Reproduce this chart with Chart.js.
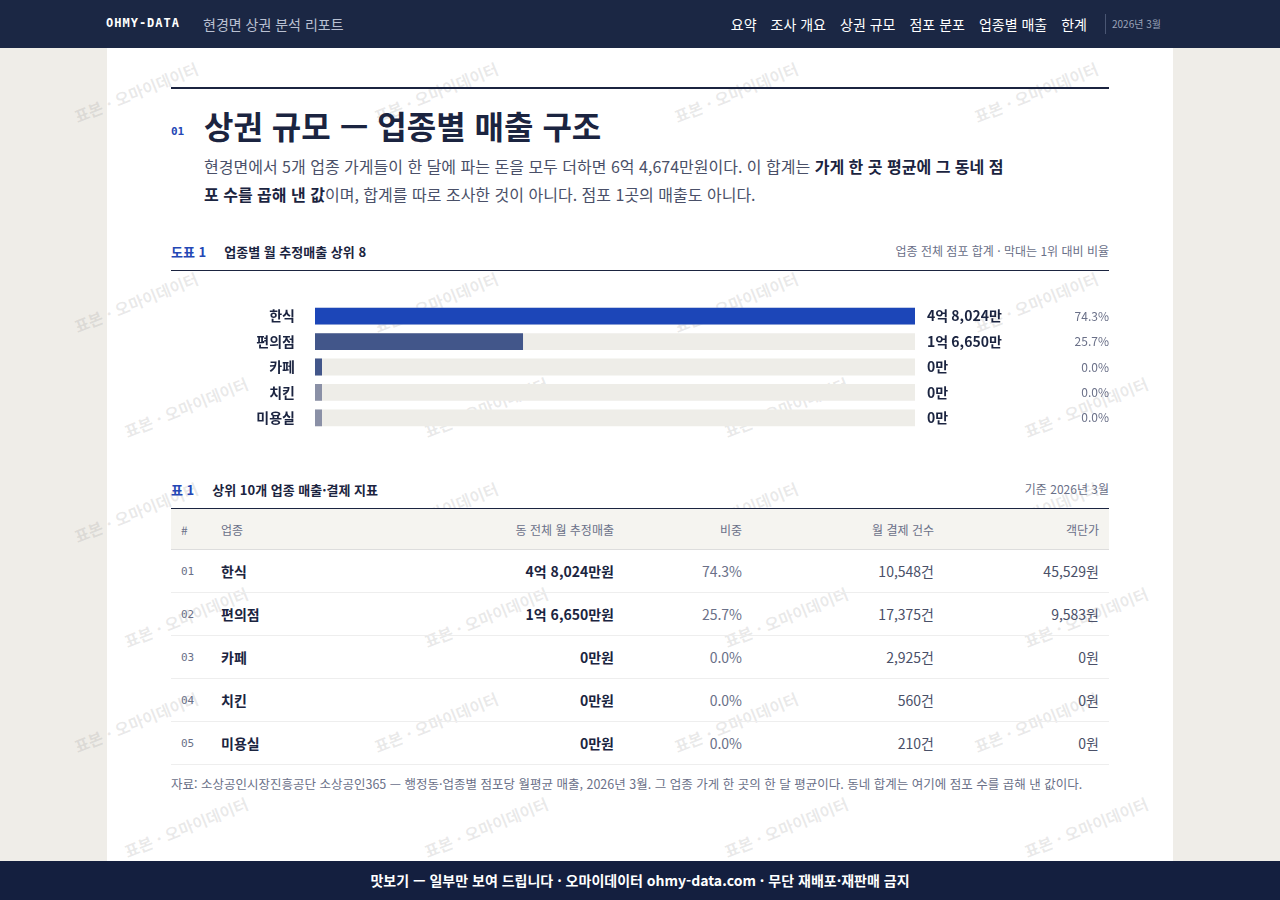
<!DOCTYPE html>
<html lang="ko"><head><meta charset="utf-8">
<script src="https://cdn.jsdelivr.net/npm/chart.js@4"></script>
<style>
*{box-sizing:border-box;margin:0;padding:0}
body{width:1280px;height:900px;overflow:hidden;background:#efede8;font-family:"Noto Sans CJK KR","Noto Sans",sans-serif;color:#1b2440}
.top{position:absolute;left:0;top:0;width:1280px;height:48px;background:#1b2744;color:#fff}
.top .brand{position:absolute;left:106px;top:16px;font:bold 12px "DejaVu Sans Mono",monospace;letter-spacing:1px}
.top .sub{position:absolute;left:203px;top:14px;font-size:14px;color:#b9c0d2}
.top .nav{position:absolute;right:193px;top:14px;font-size:14px}
.top .nav span{margin-left:14px}
.top .date{position:absolute;left:1105px;top:14px;border-left:1px solid #4a5673;padding-left:6px;font-size:10px;color:#9aa3b8;height:20px;line-height:20px}
.page{position:absolute;left:107px;top:48px;width:1066px;height:813px;background:#fff}
.foot{position:absolute;left:0;top:861px;width:1280px;height:39px;background:#141f3f;color:#fff;text-align:center;font-size:14px;font-weight:bold;line-height:39px}
.abs{position:absolute}
table{border-collapse:collapse;width:938px;font-size:14px}
th{background:#f5f4f0;color:#6a7088;font-weight:normal;font-size:12px;height:41px;border-top:1px solid #1b2440;border-bottom:1px solid #ddd}
td{height:43px;border-bottom:1px solid #eee;color:#1b2440}
td.n{font:11px "DejaVu Sans Mono",monospace;color:#6a7088;padding-left:10px}
td.r,th.r{text-align:right;padding-right:10px}
td.g{color:#6a7088}
.wm{position:absolute;font-size:16px;font-weight:bold;color:rgba(120,120,120,0.16);transform:rotate(-22deg);white-space:nowrap;pointer-events:none}
</style></head><body>
<div class="top"><div class="brand">OHMY-DATA</div><div class="sub">현경면 상권 분석 리포트</div>
<div class="nav"><span>요약</span><span>조사 개요</span><span>상권 규모</span><span>점포 분포</span><span>업종별 매출</span><span>한계</span></div>
<div class="date">2026년 3월</div></div>
<div class="page"></div>
<div id="wms"></div>
<div class="abs" style="left:171px;top:87px;width:938px;border-top:2px solid #1b2440"></div>
<div class="abs" style="left:171px;top:125px;font:bold 11px 'DejaVu Sans Mono';color:#2447b5">01</div>
<div class="abs" style="left:204px;top:102px;font-size:32px;font-weight:bold">상권 규모 — 업종별 매출 구조</div>
<div class="abs" style="left:204px;top:152px;width:800px;font-size:16px;line-height:28px;color:#4a5068">현경면에서 5개 업종 가게들이 한 달에 파는 돈을 모두 더하면 6억 4,674만원이다. 이 합계는 <b style="color:#1b2440">가게 한 곳 평균에 그 동네 점포 수를 곱해 낸 값</b>이며, 합계를 따로 조사한 것이 아니다. 점포 1곳의 매출도 아니다.</div>
<div class="abs" style="left:171px;top:242px;font-size:13px;font-weight:bold"><span style="color:#2447b5;margin-right:18px">도표 1</span>업종별 월 추정매출 상위 8</div>
<div class="abs" style="left:700px;top:242px;width:409px;text-align:right;font-size:12px;color:#6a7088">업종 전체 점포 합계 · 막대는 1위 대비 비율</div>
<div class="abs" style="left:171px;top:270px;width:938px;border-top:1px solid #1b2440"></div>
<div class="abs" style="left:171px;top:283px;width:938px;height:168px"><canvas id="graph" width="938" height="168"></canvas></div>
<div class="abs" style="left:171px;top:480px;font-size:13px;font-weight:bold"><span style="color:#2447b5;margin-right:18px">표 1</span>상위 10개 업종 매출·결제 지표</div>
<div class="abs" style="left:900px;top:480px;width:209px;text-align:right;font-size:12px;color:#6a7088">기준 2026년 3월</div>
<div class="abs" style="left:171px;top:508px"><table id="tbl"></table></div>
<div class="abs" style="left:171px;top:774px;width:938px;font-size:12.5px;line-height:19px;color:#6a7088">자료: 소상공인시장진흥공단 소상공인365 — 행정동·업종별 점포당 월평균 매출, 2026년 3월. 그 업종 가게 한 곳의 한 달 평균이다. 동네 합계는 여기에 점포 수를 곱해 낸 값이다.</div>
<div class="foot">맛보기 — 일부만 보여 드립니다 · 오마이데이터 ohmy-data.com · 무단 재배포·재판매 금지</div>
<script>
const categories = ['한식', '편의점', '카페', '치킨', '미용실']
const sales = [48024, 16650, 0, 0, 0]          // 만원
const salesLabels = ['4억 8,024만', '1억 6,650만', '0만', '0만', '0만']
const shares = ['74.3%', '25.7%', '0.0%', '0.0%', '0.0%']
const payments = ['10,548건', '17,375건', '2,925건', '560건', '210건']
const unitPrices = ['45,529원', '9,583원', '0원', '0원', '0원']
const barColors = ['#1c46b8', '#42568a', '#42568a', '#8a90a6', '#8a90a6']
const maxSale = Math.max(...sales)

const sideText = {
    id: 'sideText',
    afterDatasetsDraw(chart) {
        const ctx = chart.ctx
        const meta = chart.getDatasetMeta(1)
        ctx.save()
        ctx.textBaseline = 'middle'
        meta.data.forEach((bar, i) => {
            ctx.fillStyle = '#1b2440'
            ctx.font = 'bold 14px "Noto Sans CJK KR"'
            ctx.textAlign = 'left'
            ctx.fillText(salesLabels[i], chart.chartArea.right + 12, bar.y)
            ctx.fillStyle = '#6a7088'
            ctx.font = '12px "Noto Sans CJK KR"'
            ctx.textAlign = 'right'
            ctx.fillText(shares[i], chart.width, bar.y)
        })
        ctx.restore()
    }
}

new Chart(document.getElementById('graph').getContext('2d'), {
    type: 'bar',
    data: {
        labels: categories,
        datasets: [
            { data: categories.map(() => maxSale), backgroundColor: '#eeede8', grouped: false, order: 2, barPercentage: 1, categoryPercentage: 0.66 },
            { data: sales, backgroundColor: barColors, grouped: false, order: 1, minBarLength: 7, barPercentage: 1, categoryPercentage: 0.66 }
        ]
    },
    options: {
        indexAxis: 'y',
        responsive: false, animation: false,
        layout: { padding: { right: 194 } },
        plugins: { legend: { display: false }, tooltip: { enabled: false } },
        scales: {
            x: { display: false, min: 0, max: maxSale },
            y: {
                grid: { display: false }, border: { display: false },
                ticks: { color: '#1b2440', font: { size: 14, weight: 'bold', family: '"Noto Sans CJK KR"' }, padding: 12 },
                afterFit(s) { s.width = 144 }
            }
        }
    },
    plugins: [sideText]
})

let rows = '<tr><th style="text-align:left;padding-left:10px;width:40px">#</th><th style="text-align:left;padding-left:10px">업종</th><th class="r">동 전체 월 추정매출</th><th class="r">비중</th><th class="r">월 결제 건수</th><th class="r">객단가</th></tr>'
categories.forEach((c, i) => {
    rows += `<tr><td class="n">0${i + 1}</td><td style="padding-left:10px;font-weight:bold">${c}</td><td class="r" style="font-weight:bold">${salesLabels[i]}원</td><td class="r g" style="width:128px">${shares[i]}</td><td class="r g" style="width:192px;color:#4a5068">${payments[i]}</td><td class="r" style="width:165px;color:#4a5068">${unitPrices[i]}</td></tr>`
})
document.getElementById('tbl').innerHTML = rows

let wm = ''
for (let r = 0; r < 8; r++) for (let c = 0; c < 4; c++) {
    if (r === 1) continue
    wm += `<div class="wm" style="left:${70 + c * 300 + (r % 2) * 50}px;top:${80 + r * 105}px">표본 · 오마이데이터</div>`
}
document.getElementById('wms').innerHTML = wm
</script>
</body></html>
